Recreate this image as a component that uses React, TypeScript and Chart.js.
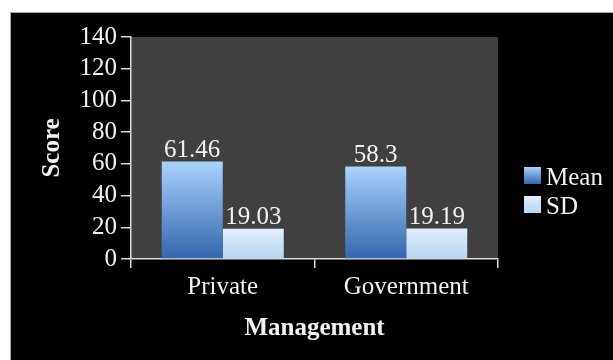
import React, { useEffect, useRef } from "react";
import { Chart, registerables } from "chart.js";

Chart.register(...registerables);

const categories = ["Private", "Government"];
const meanValues = [61.46, 58.3];
const sdValues = [19.03, 19.19];
const seriesNames = ["Mean", "SD"];
const yTicks = [0, 20, 40, 60, 80, 100, 120, 140];

const FONT = "'Liberation Serif', 'Times New Roman', serif";
const SIZE = 25;
const TEXT = "#f2f2f2";
const AXIS = "#d9d9d9";
const MEAN_TOP = "#aad2fb";
const MEAN_BOT = "#3465ae";
const SD_TOP = "#e0effd";
const SD_BOT = "#b6d5f2";

function barGradient(ctx: any, top: string, bottom: string) {
  const chart = ctx.chart;
  if (!chart.chartArea || ctx.raw === undefined) return top;
  const ys = chart.scales.y;
  const y0 = ys.getPixelForValue(ctx.raw as number);
  const y1 = ys.getPixelForValue(0);
  const g = chart.ctx.createLinearGradient(0, y0, 0, y1);
  g.addColorStop(0, top);
  g.addColorStop(1, bottom);
  return g;
}

const plotBg = {
  id: "plotBg",
  beforeDraw(chart: any) {
    const { ctx, chartArea } = chart;
    ctx.save();
    ctx.fillStyle = "#404040";
    ctx.fillRect(chartArea.left, chartArea.top, chartArea.right - chartArea.left, chartArea.bottom - chartArea.top);
    ctx.restore();
  },
};

const valueLabels = {
  id: "valueLabels",
  afterDatasetsDraw(chart: any) {
    const { ctx } = chart;
    ctx.save();
    ctx.font = `${SIZE}px ${FONT}`;
    ctx.fillStyle = TEXT;
    ctx.textAlign = "center";
    ctx.textBaseline = "alphabetic";
    chart.data.datasets.forEach((ds: any, i: number) => {
      const meta = chart.getDatasetMeta(i);
      meta.data.forEach((bar: any, j: number) => {
        ctx.fillText(String(ds.data[j]), bar.x, bar.y - 5);
      });
    });
    ctx.restore();
  },
};

const sideLegend = {
  id: "sideLegend",
  afterDraw(chart: any) {
    const { ctx } = chart;
    const tops = [MEAN_TOP, SD_TOP];
    const bots = [MEAN_BOT, SD_BOT];
    ctx.save();
    ctx.font = `${SIZE}px ${FONT}`;
    ctx.textAlign = "left";
    ctx.textBaseline = "alphabetic";
    chart.data.datasets.forEach((ds: any, i: number) => {
      const x = 524;
      const y = 167 + i * 29;
      const g = ctx.createLinearGradient(0, y, 0, y + 17);
      g.addColorStop(0, tops[i]);
      g.addColorStop(1, bots[i]);
      ctx.fillStyle = g;
      ctx.fillRect(x, y, 17, 17);
      ctx.fillStyle = TEXT;
      ctx.fillText(ds.label, x + 22, y + 18);
    });
    ctx.restore();
  },
};

export default function App() {
  const ref = useRef<HTMLCanvasElement | null>(null);
  useEffect(() => {
    if (!ref.current) return;
    const chart = new Chart(ref.current, {
      type: "bar",
      data: {
        labels: categories,
        datasets: [
          {
            label: seriesNames[0],
            data: meanValues,
            backgroundColor: (c: any) => barGradient(c, MEAN_TOP, MEAN_BOT),
            borderWidth: 0,
            categoryPercentage: 0.665,
            barPercentage: 1,
          },
          {
            label: seriesNames[1],
            data: sdValues,
            backgroundColor: (c: any) => barGradient(c, SD_TOP, SD_BOT),
            borderWidth: 0,
            categoryPercentage: 0.665,
            barPercentage: 1,
          },
        ],
      },
      options: {
        responsive: false,
        animation: false,
        devicePixelRatio: 1,
        layout: { padding: { left: 0, right: 115, top: 37, bottom: 0 } },
        plugins: { legend: { display: false }, tooltip: { enabled: false } },
        scales: {
          x: {
            afterFit: (s: any) => { s.height = 101; },
            grid: { drawOnChartArea: false, drawTicks: true, tickLength: 9, color: AXIS, lineWidth: 1.5, offset: true },
            border: { color: AXIS, width: 1.5 },
            ticks: { color: TEXT, font: { family: FONT, size: SIZE }, padding: 4, autoSkip: false, maxRotation: 0 },
            title: {
              display: true,
              text: "Management",
              color: TEXT,
              font: { family: FONT, size: SIZE, weight: "bold" },
              padding: { top: 0, bottom: 16 },
            },
          },
          y: {
            min: 0,
            max: 140,
            afterFit: (s: any) => { s.width = 131; },
            afterBuildTicks: (s: any) => { s.ticks = yTicks.map((v) => ({ value: v })); },
            grid: { drawOnChartArea: false, drawTicks: true, tickLength: 10, color: AXIS, lineWidth: 1.5 },
            border: { color: AXIS, width: 1.5 },
            ticks: { color: TEXT, font: { family: FONT, size: SIZE }, padding: 4, autoSkip: false },
            title: {
              display: true,
              text: "Score",
              color: TEXT,
              font: { family: FONT, size: SIZE, weight: "bold" },
              padding: { top: 38, bottom: 0 },
            },
          },
        },
      },
      plugins: [plotBg, valueLabels, sideLegend],
    });
    return () => chart.destroy();
  }, []);

  return (
    <div style={{ position: "fixed", left: 0, top: 0, width: 613, height: 360, background: "#ffffff" }}>
      <div
        style={{
          position: "absolute",
          left: 10,
          top: 12,
          width: 603,
          height: 348,
          background: "#000000",
          borderLeft: "1px solid #a6a6a6",
          borderTop: "1px solid #a6a6a6",
          boxSizing: "border-box",
        }}
      />
      <canvas ref={ref} width={613} height={360} style={{ position: "absolute", left: 0, top: 0, width: 613, height: 360 }} />
    </div>
  );
}
